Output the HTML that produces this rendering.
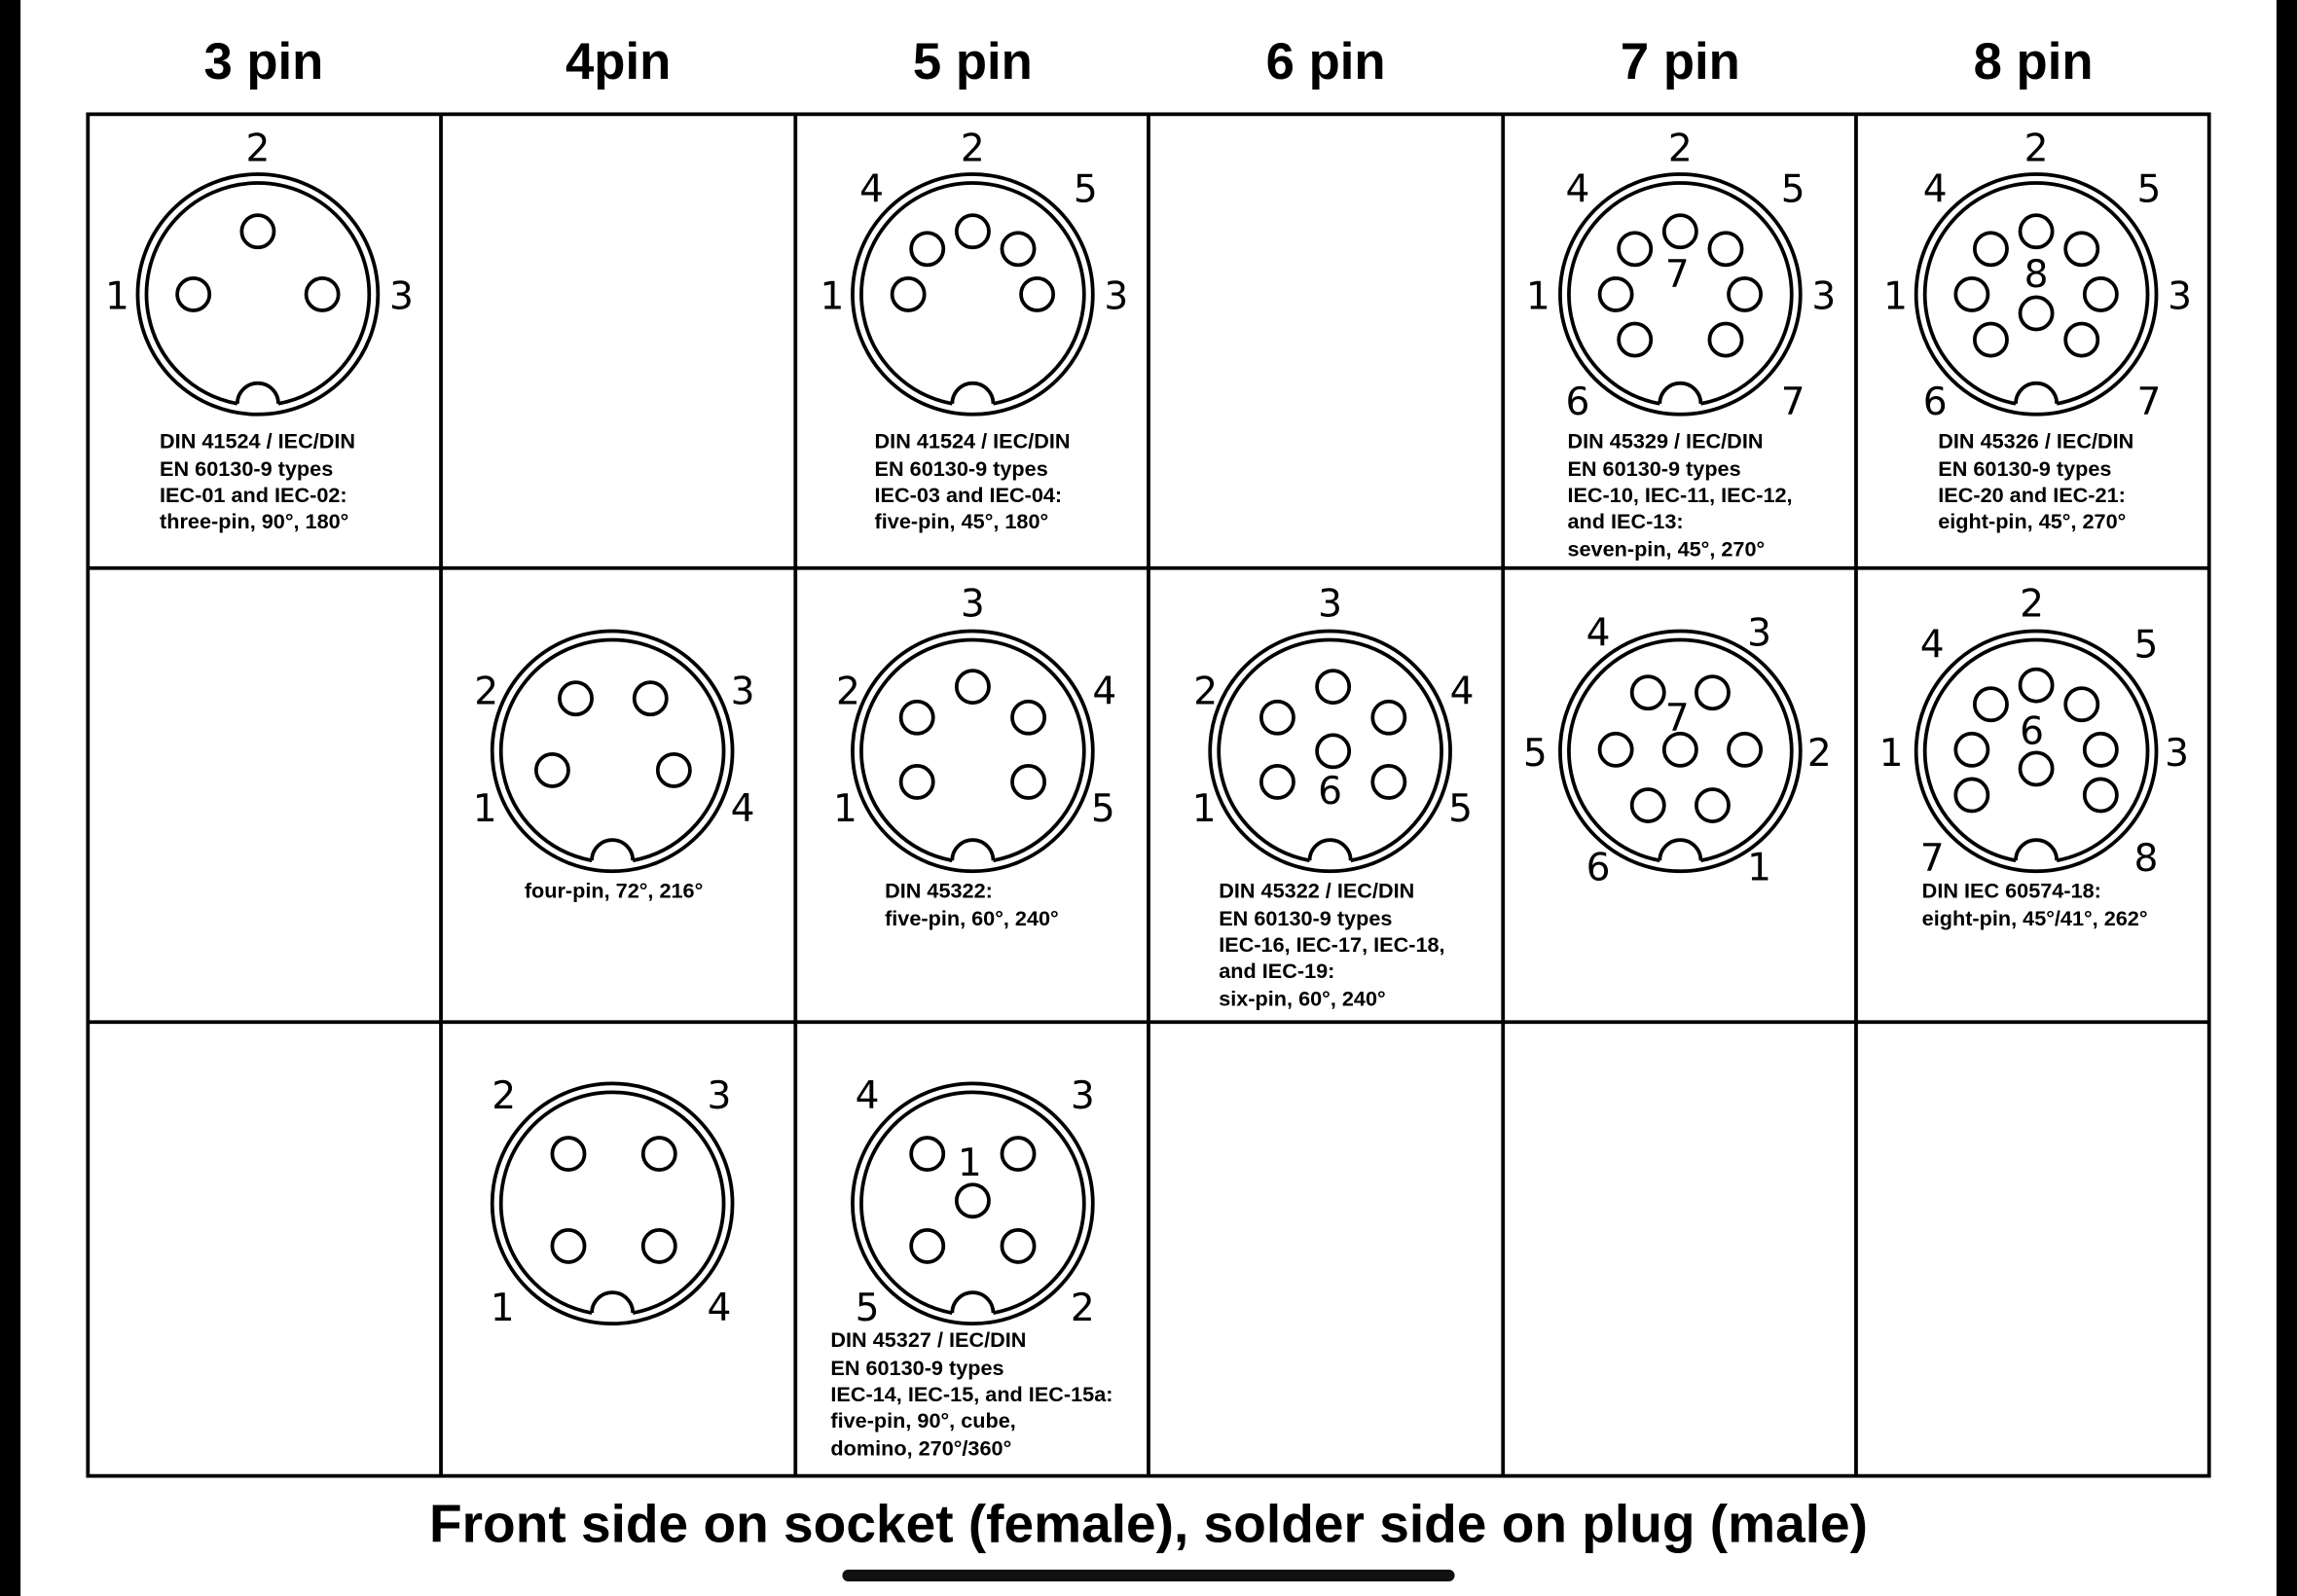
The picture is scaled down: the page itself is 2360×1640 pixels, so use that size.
<!DOCTYPE html>
<html><head><style>html,body{margin:0;padding:0;background:#000;}svg{display:block}</style></head><body>
<svg width="2360" height="1640" viewBox="0 0 1568 1090" preserveAspectRatio="none" xmlns="http://www.w3.org/2000/svg">
<defs>
<g id="body" fill="none" stroke="#000" stroke-width="2.5">
<circle r="82" cx="0" cy="0"/>
<path d="M -74.5 15 A 76 76 0 1 1 74.5 15" />
<path d="M -14 74.7 A 76 76 0 0 1 -74.5 15" />
<path d="M 14 74.7 A 76 76 0 0 0 74.5 15" />
<path d="M -14 74.7 A 14 14 0 0 1 14 74.7" />
</g>
<circle id="p" r="11" fill="none" stroke="#000" stroke-width="2.5"/>
</defs>
<rect x="14" y="0" width="1540" height="1090" fill="#fff"/>
<rect x="575" y="1072" width="418" height="8" rx="4" fill="#111"/>
<g font-family="Liberation Sans, sans-serif" font-weight="bold" font-size="35" text-anchor="middle">
<text x="180" y="54">3 pin</text><text x="422" y="54">4pin</text><text x="664" y="54">5 pin</text>
<text x="905" y="54">6 pin</text><text x="1147" y="54">7 pin</text><text x="1388" y="54">8 pin</text>
<text x="784" y="1053" font-size="36.6">Front side on socket (female), solder side on plug (male)</text>
</g>
<g stroke="#000" stroke-width="2.5" fill="none">
<rect x="60" y="78" width="1448" height="930"/>
<path d="M301 78V1008M543 78V1008M784 78V1008M1026 78V1008M1267 78V1008M60 388H1508M60 698H1508"/>
</g>
<g transform="translate(176,201)"><use href="#body"/><use href="#p" x="0" y="-43"/><use href="#p" x="-44" y="0"/><use href="#p" x="44" y="0"/></g>
<g transform="translate(664,201)"><use href="#body"/><use href="#p" x="0" y="-43"/><use href="#p" x="-31" y="-31"/><use href="#p" x="31" y="-31"/><use href="#p" x="-44" y="0"/><use href="#p" x="44" y="0"/></g>
<g transform="translate(1147,201)"><use href="#body"/><use href="#p" x="0" y="-43"/><use href="#p" x="-31" y="-31"/><use href="#p" x="31" y="-31"/><use href="#p" x="-44" y="0"/><use href="#p" x="44" y="0"/><use href="#p" x="-31" y="31"/><use href="#p" x="31" y="31"/></g>
<g transform="translate(1390,201)"><use href="#body"/><use href="#p" x="0" y="-43"/><use href="#p" x="-31" y="-31"/><use href="#p" x="31" y="-31"/><use href="#p" x="-44" y="0"/><use href="#p" x="44" y="0"/><use href="#p" x="-31" y="31"/><use href="#p" x="31" y="31"/><use href="#p" x="0" y="13"/></g>
<g transform="translate(418,513)"><use href="#body"/><use href="#p" x="-25" y="-36"/><use href="#p" x="26" y="-36"/><use href="#p" x="-41" y="13"/><use href="#p" x="42" y="13"/></g>
<g transform="translate(664,513)"><use href="#body"/><use href="#p" x="0" y="-44"/><use href="#p" x="-38" y="-23"/><use href="#p" x="38" y="-23"/><use href="#p" x="-38" y="21"/><use href="#p" x="38" y="21"/></g>
<g transform="translate(908,513)"><use href="#body"/><use href="#p" x="2" y="-44"/><use href="#p" x="-36" y="-23"/><use href="#p" x="40" y="-23"/><use href="#p" x="-36" y="21"/><use href="#p" x="40" y="21"/><use href="#p" x="2" y="0"/></g>
<g transform="translate(1147,513)"><use href="#body"/><use href="#p" x="-22" y="-40"/><use href="#p" x="22" y="-40"/><use href="#p" x="-44" y="-1"/><use href="#p" x="0" y="-1"/><use href="#p" x="44" y="-1"/><use href="#p" x="-22" y="37"/><use href="#p" x="22" y="37"/></g>
<g transform="translate(1390,513)"><use href="#body"/><use href="#p" x="0" y="-45"/><use href="#p" x="-31" y="-32"/><use href="#p" x="31" y="-32"/><use href="#p" x="-44" y="-1"/><use href="#p" x="44" y="-1"/><use href="#p" x="0" y="12"/><use href="#p" x="-44" y="30"/><use href="#p" x="44" y="30"/></g>
<g transform="translate(418,822)"><use href="#body"/><use href="#p" x="-30" y="-34"/><use href="#p" x="32" y="-34"/><use href="#p" x="-30" y="29"/><use href="#p" x="32" y="29"/></g>
<g transform="translate(664,822)"><use href="#body"/><use href="#p" x="-31" y="-34"/><use href="#p" x="31" y="-34"/><use href="#p" x="0" y="-2"/><use href="#p" x="-31" y="29"/><use href="#p" x="31" y="29"/></g>
<g font-family="DejaVu Sans, sans-serif" font-size="26" text-anchor="middle">
<text x="176" y="110">2</text><text x="80" y="211">1</text><text x="274" y="211">3</text>
<text x="664" y="110">2</text><text x="595" y="138">4</text><text x="741" y="138">5</text><text x="568" y="211">1</text><text x="762" y="211">3</text>
<text x="1147" y="110">2</text><text x="1077" y="138">4</text><text x="1224" y="138">5</text><text x="1050" y="211">1</text><text x="1245" y="211">3</text><text x="1077" y="283">6</text><text x="1224" y="283">7</text><text x="1145" y="196">7</text>
<text x="1390" y="110">2</text><text x="1321" y="138">4</text><text x="1467" y="138">5</text><text x="1294" y="211">1</text><text x="1488" y="211">3</text><text x="1321" y="283">6</text><text x="1467" y="283">7</text><text x="1390" y="196">8</text>
<text x="332" y="481">2</text><text x="507" y="481">3</text><text x="331" y="561">1</text><text x="507" y="561">4</text>
<text x="664" y="421">3</text><text x="579" y="481">2</text><text x="754" y="481">4</text><text x="577" y="561">1</text><text x="753" y="561">5</text>
<text x="908" y="421">3</text><text x="823" y="481">2</text><text x="998" y="481">4</text><text x="822" y="561">1</text><text x="997" y="561">5</text><text x="908" y="549">6</text>
<text x="1091" y="441">4</text><text x="1201" y="441">3</text><text x="1048" y="523">5</text><text x="1242" y="523">2</text><text x="1091" y="601">6</text><text x="1201" y="601">1</text><text x="1145" y="499">7</text>
<text x="1387" y="421">2</text><text x="1319" y="449">4</text><text x="1465" y="449">5</text><text x="1291" y="523">1</text><text x="1486" y="523">3</text><text x="1319" y="595">7</text><text x="1465" y="595">8</text><text x="1387" y="508">6</text>
<text x="344" y="757">2</text><text x="491" y="757">3</text><text x="343" y="902">1</text><text x="491" y="902">4</text>
<text x="592" y="757">4</text><text x="739" y="757">3</text><text x="592" y="902">5</text><text x="739" y="902">2</text><text x="662" y="803">1</text>
</g>
<g font-family="Liberation Sans, sans-serif" font-weight="bold" font-size="14.4">
<text x="109" y="306">DIN 41524 / IEC/DIN</text><text x="109" y="325">EN 60130-9 types</text><text x="109" y="343">IEC-01 and IEC-02:</text><text x="109" y="361">three-pin, 90°, 180°</text>
<text x="597" y="306">DIN 41524 / IEC/DIN</text><text x="597" y="325">EN 60130-9 types</text><text x="597" y="343">IEC-03 and IEC-04:</text><text x="597" y="361">five-pin, 45°, 180°</text>
<text x="1070" y="306">DIN 45329 / IEC/DIN</text><text x="1070" y="325">EN 60130-9 types</text><text x="1070" y="343">IEC-10, IEC-11, IEC-12,</text><text x="1070" y="361">and IEC-13:</text><text x="1070" y="380">seven-pin, 45°, 270°</text>
<text x="1323" y="306">DIN 45326 / IEC/DIN</text><text x="1323" y="325">EN 60130-9 types</text><text x="1323" y="343">IEC-20 and IEC-21:</text><text x="1323" y="361">eight-pin, 45°, 270°</text>
<text x="358" y="613">four-pin, 72°, 216°</text>
<text x="604" y="613">DIN 45322:</text><text x="604" y="632">five-pin, 60°, 240°</text>
<text x="832" y="613">DIN 45322 / IEC/DIN</text><text x="832" y="632">EN 60130-9 types</text><text x="832" y="650">IEC-16, IEC-17, IEC-18,</text><text x="832" y="668">and IEC-19:</text><text x="832" y="687">six-pin, 60°, 240°</text>
<text x="1312" y="613">DIN IEC 60574-18:</text><text x="1312" y="632">eight-pin, 45°/41°, 262°</text>
<text x="567" y="920">DIN 45327 / IEC/DIN</text><text x="567" y="939">EN 60130-9 types</text><text x="567" y="957">IEC-14, IEC-15, and IEC-15a:</text><text x="567" y="975">five-pin, 90°, cube,</text><text x="567" y="994">domino, 270°/360°</text>
</g>
</svg>
</body></html>
